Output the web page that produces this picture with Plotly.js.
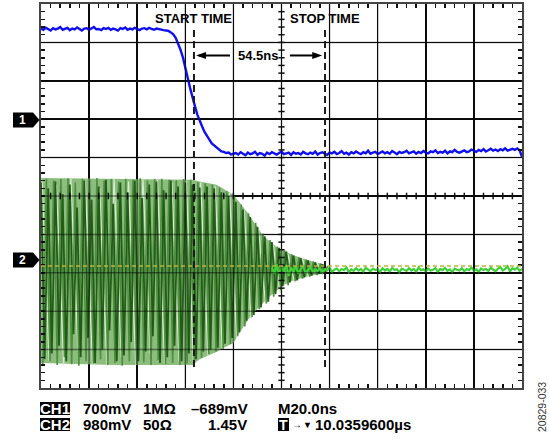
<!DOCTYPE html>
<html>
<head>
<meta charset="utf-8">
<script src="https://cdn.plot.ly/plotly-3.0.1.min.js"></script>
<style>html,body{margin:0;padding:0;background:#fff;}#chart{width:549px;height:440px;}</style>
</head>
<body>
<div id="chart"></div>
<script>
// ---- Data (time in ns, amplitude in screen divisions; 20 ns/div) ----
const sampleTimes = [
0,1,2,3,4,5,6,7,8,9,10,11,12,13,14,15,16,17,18,19,
20,21,22,23,24,25,26,27,28,29,30,31,32,33,34,35,36,37,38,39,
40,41,42,43,44,45,46,47,48,49,50,51,52,53,54,55,56,57,58,59,
60,61,62,63,64,65,66,67,68,69,70,71,72,73,74,75,76,77,78,79,
80,81,82,83,84,85,86,87,88,89,90,91,92,93,94,95,96,97,98,99,
100,101,102,103,104,105,106,107,108,109,110,111,112,113,114,115,116,117,118,119,
120,121,122,123,124,125,126,127,128,129,130,131,132,133,134,135,136,137,138,139,
140,141,142,143,144,145,146,147,148,149,150,151,152,153,154,155,156,157,158,159,
160,161,162,163,164,165,166,167,168,169,170,171,172,173,174,175,176,177,178,179,
180,181,182,183,184,185,186,187,188,189,190,191,192,193,194,195,196,197,198,199,
200];

// CH1 (blue) — falling edge
const ch1Values = [
4.36,4.33,4.38,4.35,4.31,4.37,4.34,4.36,4.40,4.33,
4.35,4.38,4.32,4.36,4.34,4.39,4.35,4.31,4.36,4.37,
4.33,4.36,4.40,4.34,4.35,4.32,4.37,4.35,4.38,4.33,
4.36,4.34,4.31,4.37,4.35,4.39,4.33,4.36,4.34,4.38,
4.35,4.32,4.36,4.37,4.34,4.38,4.35,4.33,4.36,4.34,
4.33,4.32,4.31,
4.30,4.26,4.21,4.12,3.98,3.81,3.61,3.37,3.08,2.81,
2.55,2.34,2.12,1.95,1.81,1.67,1.55,1.47,1.37,1.32,
1.25,1.22,1.16,1.15,1.12,1.13,1.08,1.10,
1.12,1.08,1.14,1.10,1.06,1.13,1.09,1.11,1.15,1.07,
1.12,1.10,1.05,1.13,1.09,1.14,1.11,1.08,1.12,1.16,
1.09,1.11,1.13,1.07,1.14,1.10,1.12,1.08,1.15,1.11,
1.09,1.13,1.10,1.16,1.08,1.12,1.14,1.10,1.07,1.13,
1.11,1.15,1.09,1.12,1.17,1.10,1.13,1.08,1.14,1.11,
1.16,1.12,1.09,1.14,1.11,1.18,1.10,1.13,1.15,1.09,
1.12,1.16,1.11,1.14,1.10,1.17,1.13,1.09,1.15,1.12,
1.14,1.18,1.11,1.13,1.16,1.10,1.15,1.12,1.17,1.13,
1.11,1.16,1.14,1.19,1.12,1.15,1.13,1.18,1.11,1.16,
1.14,1.20,1.15,1.13,1.17,1.19,1.14,1.16,1.21,1.18,
1.15,1.20,1.17,1.22,1.16,1.19,1.23,1.18,1.21,1.17,
1.22,1.19,1.24,1.18,1.21,1.23,1.20,1.24,1.19,1.02];

// CH2 burst, envelope (persistence band)
const envTimes = [0,30,63,66,70,73,76,80,83,86,89,92,95,98,101,104,108,111,114,118];
const envUpper = [0.47,0.45,0.42,0.38,0.33,0.29,0.18,0.03,-0.20,-0.44,-0.72,-1.00,-1.18,-1.33,-1.42,-1.52,-1.61,-1.67,-1.72,-1.80];
const envLower = [-4.35,-4.40,-4.40,-4.25,-4.14,-4.06,-3.95,-3.83,-3.52,-3.23,-3.00,-2.80,-2.62,-2.47,-2.32,-2.22,-2.14,-2.09,-2.06,-1.98];

// CH2 burst peaks, pale acquisition
const lightTimes = [
0.4,3.4,6.4,9.4,12.4,15.4,18.4,21.4,24.4,27.4,
30.4,33.4,36.4,39.4,42.4,45.4,48.4,51.4,54.4,57.4,
60.4,63.4,66.4,69.4,72.4,75.4,78.4,81.4,84.4,87.4,
90.4,93.4,96.4,99.4,102.4,105.4,108.4,111.4,114.4,117.4];
const lightPeaks = [
0.44,-4.30,0.30,-4.40,0.46,-4.05,0.40,-4.38,0.20,-4.42,
0.45,-4.20,0.38,-4.40,0.46,-4.10,0.42,-4.36,0.35,-4.30,
0.40,-4.38,0.36,-4.15,0.25,-3.98,0.08,-3.70,-0.35,-3.20,
-0.85,-2.82,-1.22,-2.52,-1.45,-2.25,-1.60,-2.12,-1.72,-2.00];

// CH2 burst peaks, dark acquisition
const darkTimes = [
0,1.5,3,4.5,6,7.5,9,10.5,12,13.5,
15,16.5,18,19.5,21,22.5,24,25.5,27,28.5,
30,31.5,33,34.5,36,37.5,39,40.5,42,43.5,
45,46.5,48,49.5,51,52.5,54,55.5,57,58.5,
60,61.5,63,64.5,66,67.5,69,70.5,72,73.5,
75,76.5,78,79.5,81,82.5,84,85.5,87,88.5,
90,91.5,93,94.5,96,97.5,99,100.5,102,103.5,
105,106.5,108,109.5,111,112.5,114,115.5,117,118.5];
const darkPeaks = [
0.35,-4.25,0.20,-4.10,0.38,-3.90,0.05,-4.30,0.30,-3.60,
-0.30,-4.20,0.40,-3.70,-0.10,-4.35,0.25,-4.00,0.42,-3.50,
-0.20,-4.30,0.35,-4.15,0.10,-3.80,0.40,-4.30,-0.05,-4.05,
0.30,-3.65,0.38,-4.35,0.15,-4.20,0.40,-3.90,0.25,-4.30,
0.35,-4.10,0.30,-4.25,0.22,-4.05,0.25,-4.00,0.20,-3.95,
0.10,-3.85,0.00,-3.70,-0.15,-3.55,-0.35,-3.25,-0.55,-3.10,
-0.80,-2.90,-1.05,-2.75,-1.20,-2.55,-1.35,-2.35,-1.45,-2.25,
-1.55,-2.20,-1.62,-2.12,-1.68,-2.07,-1.73,-2.03,-1.78,-1.98];

// CH2 burst peaks, medium acquisition
const midTimes = [
0.75,2.25,3.75,5.25,6.75,8.25,9.75,11.25,12.75,14.25,
15.75,17.25,18.75,20.25,21.75,23.25,24.75,26.25,27.75,29.25,
30.75,32.25,33.75,35.25,36.75,38.25,39.75,41.25,42.75,44.25,
45.75,47.25,48.75,50.25,51.75,53.25,54.75,56.25,57.75,59.25,
60.75,62.25,63.75,65.25,66.75,68.25,69.75,71.25,72.75,74.25,
75.75,77.25,78.75,80.25,81.75,83.25,84.75,86.25,87.75,89.25,
90.75,92.25,93.75,95.25,96.75,98.25,99.75,101.25,102.75,104.25,
105.75,107.25,108.75,110.25,111.75,113.25,114.75,116.25,117.75,119.25];
const midPeaks = [
-4.38,0.45,-4.30,0.40,-4.40,0.44,-4.20,0.46,-4.38,0.35,
-4.42,0.45,-4.30,0.42,-4.36,0.47,-4.25,0.40,-4.40,0.44,
-4.35,0.38,-4.42,0.45,-4.30,0.42,-4.38,0.46,-4.33,0.40,
-4.40,0.44,-4.28,0.45,-4.38,0.42,-4.35,0.40,-4.40,0.44,
-4.36,0.42,-4.35,0.36,-4.22,0.33,-4.12,0.30,-4.05,0.22,
-3.98,0.12,-3.86,0.00,-3.65,-0.22,-3.40,-0.45,-3.15,-0.70,
-2.95,-0.98,-2.80,-1.15,-2.62,-1.32,-2.45,-1.42,-2.32,-1.52,
-2.22,-1.60,-2.15,-1.66,-2.10,-1.71,-2.06,-1.76,-2.00,-1.82];

// CH2 settled tail (t = 96 .. 200 ns)
const tailValues = [
-1.85,-2.02,-1.78,-2.05,-1.88,-1.95,-1.80,-2.08,-1.86,-1.98,-1.82,-2.02,-1.90,-1.84,-2.00,
-1.92,-1.86,-1.97,-1.90,-1.95,-1.88,-2.00,-1.91,-1.94,-1.87,
-1.98,-1.92,-1.89,-1.96,-1.90,-1.93,-1.86,-1.99,-1.91,-1.95,
-1.88,-1.94,-1.90,-1.97,-1.87,-1.92,-1.96,-1.89,-1.93,-1.91,
-1.98,-1.88,-1.94,-1.90,-1.96,-1.87,-1.93,-1.91,-1.99,-1.89,
-1.92,-1.95,-1.88,-1.94,-1.90,-1.97,-1.86,-1.93,-1.91,-1.96,
-1.89,-1.94,-1.92,-1.88,-1.97,-1.90,-1.93,-1.87,-1.95,-1.91,
-1.98,-1.89,-1.92,-1.94,-1.88,-1.96,-1.90,-1.93,-1.86,-1.95,
-1.91,-1.97,-1.89,-1.93,-1.90,-1.95,-1.87,-1.92,-1.96,-1.89,
-1.85,-1.94,-1.90,-1.83,-1.97,-1.88,-1.92,-1.86,-1.95,-1.90];
const tailTimes = sampleTimes.slice(96);

// cursors and levels
const cursorTimes = [63.6, 118.1];         // START, STOP (ns)
const cursorLabels = ['START TIME', 'STOP TIME'];
const deltaLabel = '54.5ns';
const ch2RefLevel = -1.82;                  // dashed reference level (div)

// ---- helpers ----
const FONT = 'Liberation Sans, Arial, Helvetica, sans-serif';
const L = 41, T = 4, W = 481, H = 384;
const px = v => (v - L) / W;       // pixel x -> paper
const py = v => (T + H - v) / H;   // pixel y -> paper

const traces = [
  {x: envTimes, y: envLower, mode: 'lines', line: {width: 0, color: 'rgba(0,0,0,0)'}, hoverinfo: 'skip'},
  {x: envTimes, y: envUpper, mode: 'lines', fill: 'tonexty', fillcolor: '#8cbd7e', line: {width: 0, color: 'rgba(0,0,0,0)'}, hoverinfo: 'skip'},
  {x: lightTimes, y: lightPeaks, mode: 'lines', line: {color: '#d8ead0', width: 1.2}},
  {x: midTimes, y: midPeaks, mode: 'lines', line: {color: '#4d8f3f', width: 1.6}},
  {x: darkTimes, y: darkPeaks, mode: 'lines', line: {color: '#235c18', width: 1.8}},
  {x: tailTimes, y: tailValues, mode: 'lines', line: {color: '#3fcf3a', width: 2.2}},
  {x: sampleTimes, y: ch1Values, mode: 'lines', line: {color: '#1010ee', width: 2.4}}
];

const shapes = [];
// graticule overlay above traces
for (let k = 1; k < 10; k++) shapes.push({type: 'line', xref: 'x', yref: 'paper', x0: 20 * k, x1: 20 * k, y0: 0, y1: 1, line: {color: 'rgba(0,0,0,0.45)', width: 1.5}, layer: 'above'});
for (let k = -4; k <= 4; k++) shapes.push({type: 'line', xref: 'paper', yref: 'y', x0: 0, x1: 1, y0: k, y1: k, line: {color: 'rgba(0,0,0,0.45)', width: 1.5}, layer: 'above'});
// center graticule minor ticks
for (let k = 1; k < 50; k++) {
  const t = 4 * k;
  shapes.push({type: 'line', xref: 'x', yref: 'y', x0: t, x1: t, y0: -0.085, y1: 0.085, line: {color: '#111', width: 1.5}, layer: 'above'});
}
for (let k = 1; k < 50; k++) {
  const v = -5 + 0.2 * k;
  shapes.push({type: 'line', xref: 'x', yref: 'y', x0: 98.7, x1: 101.3, y0: v, y1: v, line: {color: '#111', width: 1.5}, layer: 'above'});
}
// reference level (dashed olive)
shapes.push({type: 'line', xref: 'paper', yref: 'y', x0: 0, x1: 1, y0: ch2RefLevel, y1: ch2RefLevel, line: {color: '#bdb43a', width: 1.5, dash: '4px,3px'}, layer: 'above'});
// cursors
cursorTimes.forEach(t => shapes.push({type: 'line', xref: 'x', yref: 'y', x0: t, x1: t, y0: 4.32, y1: -4.45, line: {color: '#1a1a1a', width: 2, dash: '7px,4px'}, layer: 'above'}));
// delta arrows (shaft + head)
const ay = 3.66, hw = 0.09;
shapes.push({type: 'line', xref: 'x', yref: 'y', x0: cursorTimes[0] + 2, x1: 78.6, y0: ay, y1: ay, line: {color: '#000', width: 2}, layer: 'above'});
shapes.push({type: 'path', xref: 'x', yref: 'y', fillcolor: '#000', line: {width: 0}, layer: 'above',
  path: `M ${cursorTimes[0] + 0.9},${ay} L ${cursorTimes[0] + 5},${ay + hw} L ${cursorTimes[0] + 5},${ay - hw} Z`});
shapes.push({type: 'line', xref: 'x', yref: 'y', x0: 103.5, x1: cursorTimes[1] - 4, y0: ay, y1: ay, line: {color: '#000', width: 2}, layer: 'above'});
shapes.push({type: 'path', xref: 'x', yref: 'y', fillcolor: '#000', line: {width: 0}, layer: 'above',
  path: `M ${cursorTimes[1] - 1.2},${ay} L ${cursorTimes[1] - 5.3},${ay + hw} L ${cursorTimes[1] - 5.3},${ay - hw} Z`});
// channel markers
[120, 260].forEach(pyc => {
  const yc = py(pyc), h = 7.5 / H;
  shapes.push({type: 'path', xref: 'paper', yref: 'paper', fillcolor: '#000', line: {width: 0},
    path: `M ${px(13)},${yc + h} L ${px(33)},${yc + h} L ${px(39.5)},${yc} L ${px(33)},${yc - h} L ${px(13)},${yc - h} Z`});
});
// readout boxes
const box = (x0, x1, y0, y1) => shapes.push({type: 'rect', xref: 'paper', yref: 'paper', x0: px(x0), x1: px(x1), y0: py(y1), y1: py(y0), fillcolor: '#000', line: {width: 0}});
box(40, 70, 402, 415);
box(40, 70, 418, 431);
box(278, 289, 418, 431);

const ann = [];
const txt = (text, x, y, opts = {}) => ann.push(Object.assign({
  text: '<b>' + text + '</b>', xref: 'paper', yref: 'paper', x: px(x), y: py(y), xanchor: 'left', yanchor: 'middle', showarrow: false,
  borderpad: 0, font: {family: FONT, size: 15, color: '#000'}
}, opts));

// cursor labels
cursorLabels.forEach((lab, i) => ann.push({text: '<b>' + lab + '</b>', xref: 'x', yref: 'paper', x: cursorTimes[i], y: py(18), xanchor: 'center', yanchor: 'middle', showarrow: false, font: {family: FONT, size: 13, color: '#000'}}));
ann.push({text: '<b>' + deltaLabel + '</b>', xref: 'x', yref: 'y', x: 90.4, y: ay, xanchor: 'center', yanchor: 'middle', showarrow: false, font: {family: FONT, size: 13, color: '#000'}});

// channel marker numbers
txt('1', 22.5, 120, {xanchor: 'center', font: {family: FONT, size: 12, color: '#fff'}});
txt('2', 22.5, 260, {xanchor: 'center', font: {family: FONT, size: 12, color: '#fff'}});

// readout rows
const r1 = 408.5, r2 = 424.5;
txt('CH1', 55, r1, {xanchor: 'center', font: {family: FONT, size: 15, color: '#fff'}});
txt('CH2', 55, r2, {xanchor: 'center', font: {family: FONT, size: 15, color: '#fff'}});
txt('700mV', 82, r1); txt('1MΩ', 142, r1); txt('–689mV', 190, r1); txt('M20.0ns', 277, r1);
txt('980mV', 82, r2); txt('50Ω', 142, r2); txt('1.45V', 207, r2);
txt('T', 283.5, r2, {xanchor: 'center', font: {family: FONT, size: 14, color: '#fff'}});
txt('→', 297, r2, {xanchor: 'center', font: {family: FONT, size: 10, color: '#000'}});
txt('▼', 307.5, r2 + 0.5, {xanchor: 'center', font: {family: FONT, size: 9, color: '#000'}});
txt('10.0359600µs', 314, r2);
// figure id
ann.push({text: '20829-033', xref: 'paper', yref: 'paper', x: px(542), y: py(407), xanchor: 'center', yanchor: 'middle', textangle: -90, showarrow: false, font: {family: FONT, size: 10.5, color: '#333'}});

const axisCommon = {
  showgrid: true, gridcolor: '#111', gridwidth: 1.5, zeroline: false,
  ticks: 'inside', ticklen: 4, tickwidth: 1.5, tickcolor: '#111', showticklabels: false,
  showline: true, linecolor: '#444', linewidth: 2, mirror: 'ticks', fixedrange: true
};
const layout = {
  width: 549, height: 440, margin: {l: 41, r: 27, t: 4, b: 52, pad: 0},
  paper_bgcolor: '#fff', plot_bgcolor: '#fff', showlegend: false,
  xaxis: Object.assign({}, axisCommon, {range: [0, 200], tick0: 0, dtick: 20,
    minor: {dtick: 4, ticks: 'inside', ticklen: 4, tickwidth: 1.5, tickcolor: '#111', showgrid: false}}),
  yaxis: Object.assign({}, axisCommon, {range: [-5, 5], tick0: 0, dtick: 1,
    minor: {dtick: 0.2, ticks: 'inside', ticklen: 4, tickwidth: 1.5, tickcolor: '#111', showgrid: false}}),
  shapes, annotations: ann
};
Plotly.newPlot('chart', traces, layout, {staticPlot: true, displayModeBar: false});
</script>
</body>
</html>
